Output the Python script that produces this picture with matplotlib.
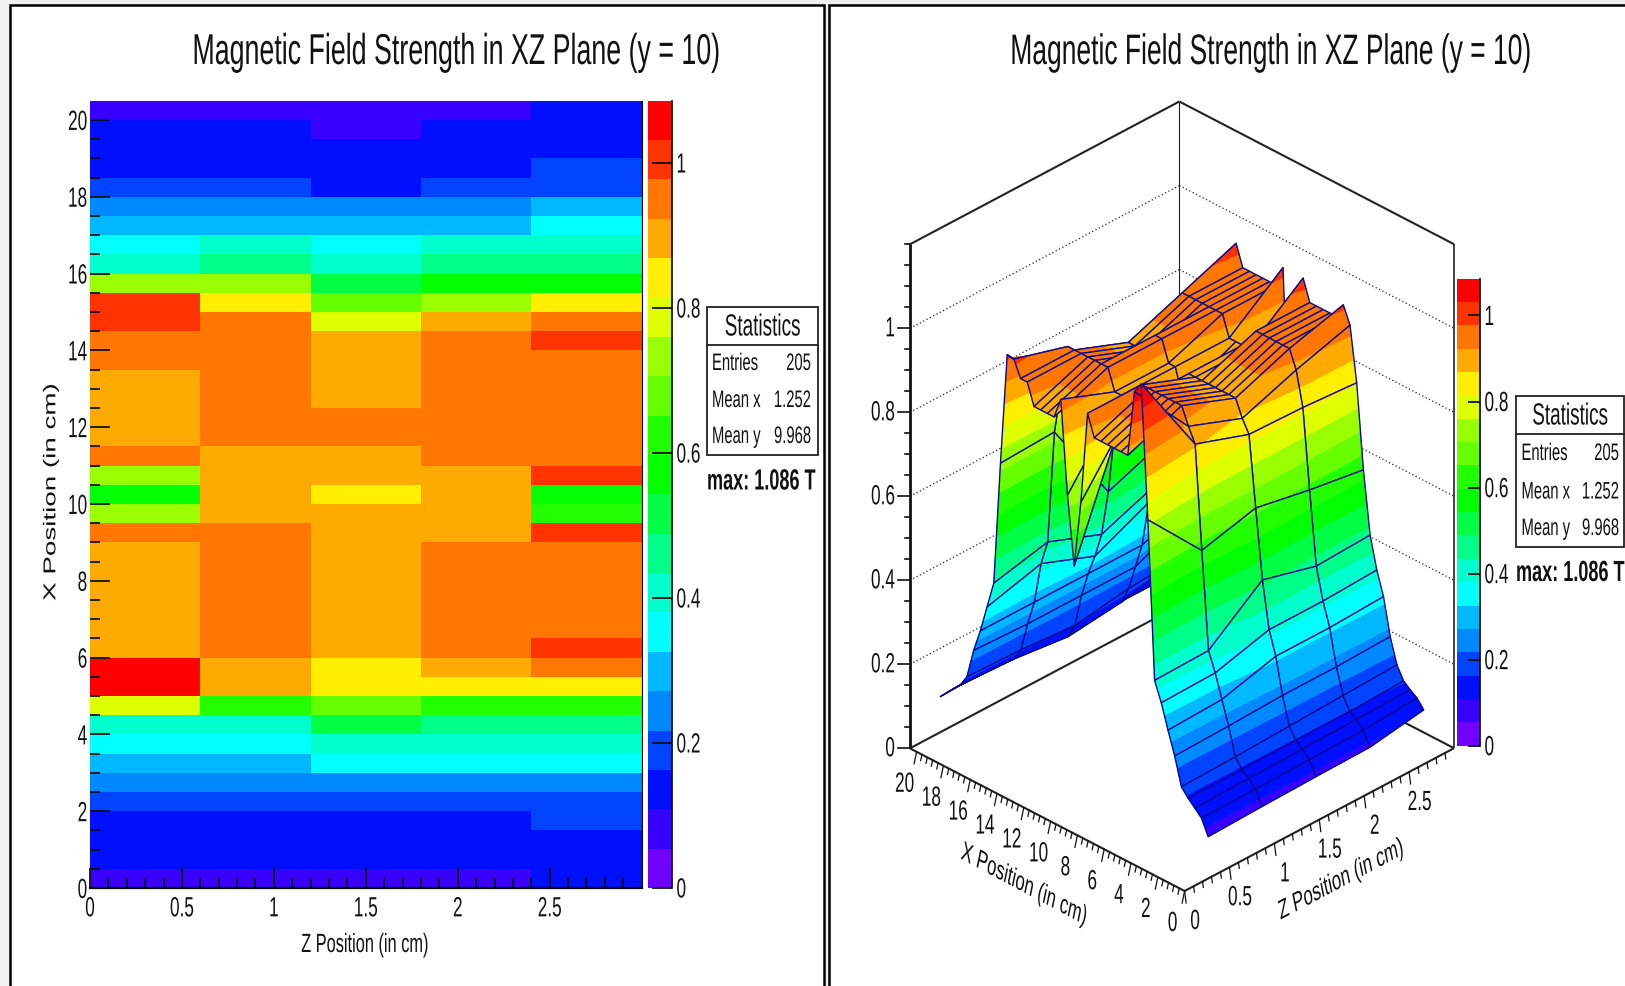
import numpy as np
import matplotlib
matplotlib.use("Agg")
from matplotlib import pyplot as plt
from matplotlib.cm import ScalarMappable
from matplotlib.collections import PolyCollection
from matplotlib.colors import BoundaryNorm, ListedColormap
from matplotlib.patches import Rectangle
from matplotlib.patheffects import AbstractPathEffect
from matplotlib.text import Text
from matplotlib.transforms import Affine2D, Bbox

TITLE = "Magnetic Field Strength in XZ Plane (y = 10)"
X_LABEL = "X Position (in cm)"
Z_LABEL = "Z Position (in cm)"
STATS = [("Entries", "205"), ("Mean x", "1.252"), ("Mean y", "9.968")]
MAX_TEXT = "max: 1.086 T"
BAR_TICKS = [0, .2, .4, .6, .8, 1]

# field in tesla, one list per z bin, going up in x
field_z0 = [.091, .127, .143, .158, .177, .242, .295, .352, .397, .771, 1.086, 1.06, .90, .90, .90, .90, .90, .90, .95, .73, .57,
            .73, .95, .90, .90, .90, .90, .95, .95, .988, .99, .724, .43, .365, .30, .245, .174, .146, .129, .111, .093]
field_z1 = [.095, .128, .145, .158, .18, .245, .30, .355, .40, .63, .875, .909, .95, .95, .95, .95, .95, .95, .95, .90, .90,
            .90, .90, .95, .95, .95, .95, .95, .95, .95, .84, .73, .46, .40, .30, .24, .17, .14, .125, .115, .10]
field_z2 = [.098, .13, .147, .16, .185, .25, .335, .39, .50, .663, .83, .86, .90, .90, .90, .90, .90, .90, .90, .90, .84,
            .90, .90, .95, .95, .90, .90, .90, .90, .79, .68, .52, .41, .35, .30, .24, .16, .125, .115, .105, .10]
field_z3 = [.10, .132, .15, .16, .19, .25, .335, .39, .465, .638, .826, .907, .95, .95, .95, .95, .95, .95, .90, .90, .90,
            .90, .95, .95, .95, .95, .95, .95, .95, .90, .73, .57, .46, .41, .30, .24, .18, .14, .125, .115, .10]
field_z4 = [.121, .141, .152, .165, .195, .254, .341, .396, .471, .618, .817, .946, .986, .95, .95, .95, .95, .95, 1.00, .62, .57,
            1.00, .95, .95, .95, .95, .95, .95, 1.00, .95, .84, .57, .46, .41, .35, .30, .19, .17, .125, .118, .115]

palette = ["#7000ff", "#3700ff", "#0010ff", "#0044ff", "#0088ff", "#00b8ff", "#00ffff", "#00ffcc", "#00ff88", "#00ff44",
           "#00ff00", "#22ff00", "#66ff00", "#99ff00", "#ddff00", "#ffee00", "#ffaa00", "#ff7700", "#ff3300", "#ff0000"]

FIELD_MAX = 1.086
BIN_X = 0.5
BIN_Z = 0.6

plt.rcParams["font.family"] = ["Liberation Sans"]

field = np.array([field_z0, field_z1, field_z2, field_z3, field_z4]).T
x_edges = BIN_X * np.arange(field.shape[0] + 1)
z_edges = BIN_Z * np.arange(field.shape[1] + 1)
x_nodes = x_edges[:-1] + BIN_X / 2
z_nodes = z_edges[:-1] + BIN_Z / 2
levels = np.linspace(0, FIELD_MAX, len(palette) + 1)
cmap = ListedColormap(palette)
norm = BoundaryNorm(levels, cmap.N)

W, H = 1625, 986
SQUEEZE = 0.62
INK = "#111111"
fig = plt.figure(figsize=(W / 100, H / 100), dpi=100, facecolor="#f0f0f0")


def add_axes_px(left, top, right, bottom):
    return fig.add_axes([left / W, 1 - bottom / H, (right - left) / W, (bottom - top) / H])


class Squeeze(AbstractPathEffect):
    # the reference was shrunk sideways only, so its glyphs are tall and thin
    def __init__(self, text):
        super().__init__()
        self.text = text

    def draw_path(self, renderer, gc, tpath, affine, rgbFace=None):
        cx = self.text.get_transform().transform(self.text.get_unitless_position())[0]
        squeeze = Affine2D().translate(-cx, 0).scale(SQUEEZE, 1).translate(cx, 0)
        renderer.draw_path(gc, tpath, affine + squeeze, rgbFace)


class NarrowText(Text):
    def __init__(self, *args, **kw):
        super().__init__(*args, **kw)
        self.set_path_effects([Squeeze(self)])

    def get_window_extent(self, renderer=None, dpi=None):
        box = super().get_window_extent(renderer, dpi)
        cx = self.get_transform().transform(self.get_unitless_position())[0]
        return Bbox.from_extents(cx + (box.x0 - cx) * SQUEEZE, box.y0, cx + (box.x1 - cx) * SQUEEZE, box.y1)


def label(x, y, s, size=20, ha="center", **kw):
    t = NarrowText(x, y, s, fontsize=size, ha=ha, va="center", color=INK, **kw)
    bg.add_artist(t)
    return t


# canvas in pixels for the frames, the texts and the surface
bg = fig.add_axes([0, 0, 1, 1])
bg.set_xlim(0, W)
bg.set_ylim(H, 0)
bg.axis("off")
bg.add_patch(Rectangle((9.5, 5), 814, 990, fc="white", ec="black", lw=1.8))
bg.add_patch(Rectangle((829, 5), 810, 990, fc="white", ec="black", lw=1.8))

label(455.5, 53, TITLE, size=31.1)
label(1270.5, 53, TITLE, size=30.7)


def stats_box(left, right, top, mid, bottom, rows_y, label_x, value_x, max_y):
    bg.add_patch(Rectangle((left, top), right - left, bottom - top, fc="white", ec="#222222", lw=1.3))
    bg.plot([left, right], [mid, mid], color="#222222", lw=1.3)
    label((left + right) / 2, (top + mid) / 2 + 1.5, "Statistics", size=22)
    for (name, val), y in zip(STATS, rows_y):
        label(label_x, y, name, size=17.2, ha="left")
        label(value_x, y, val, size=17.2, ha="right")
    label(left, max_y, MAX_TEXT, size=21, ha="left", weight="bold")


stats_box(707, 818, 307, 345, 455, [364, 401, 437], 712, 811, 481.5)
stats_box(1516, 1624, 396, 434, 546.5, [454, 492.5, 529], 1521.5, 1619, 573)

# left panel, flat map of the bins
ax = add_axes_px(90, 100.7, 641.6, 888)
ax.pcolormesh(z_edges, x_edges, field, cmap=cmap, norm=norm, antialiased=False, rasterized=True)
ax.set_xlim(0, 3)
ax.set_ylim(0, 20.5)
ax.set_xticks(np.arange(0, 3, 0.5))
ax.set_xticklabels(["0", "0.5", "1", "1.5", "2", "2.5"])
ax.set_xticks(np.arange(0, 3, 0.1), minor=True)
ax.set_yticks(np.arange(0, 21, 2))
ax.set_yticks(np.arange(0, 20.5, 0.5), minor=True)
ax.tick_params(which="major", direction="in", length=14.5, width=1.3, color=INK, labelsize=20, labelcolor=INK)
ax.tick_params(which="minor", direction="in", length=7.5, width=1.3, color=INK)
ax.tick_params(axis="x", pad=6)
ax.tick_params(axis="y", pad=2)
for tl in ax.get_xticklabels() + ax.get_yticklabels():
    tl.set_path_effects([Squeeze(tl)])
ax.spines["top"].set_visible(False)
ax.spines["left"].set_visible(False)
ax.spines["right"].set_linewidth(0.8)
ax.spines["bottom"].set_linewidth(1.6)
label(365, 945, Z_LABEL, size=19)
label(51, 492, X_LABEL, size=20, rotation=90)


def palette_bar(left, top, right, bottom, tick_len):
    cax = add_axes_px(left, top, right, bottom)
    cbar = fig.colorbar(ScalarMappable(norm=norm, cmap=cmap), cax=cax, ticks=BAR_TICKS)
    cbar.ax.minorticks_off()
    cbar.ax.tick_params(direction="in", length=tick_len, width=1.3, color=INK, labelright=False)
    cbar.outline.set_visible(False)
    cbar.dividers.set_visible(False)
    cax.axvline(1, color="black", lw=1.2, clip_on=False)
    for t in BAR_TICKS:
        y = bottom - (bottom - top) * t / FIELD_MAX
        label(right + 4.5, y + 2.5, "%g" % t, size=20, ha="left")


palette_bar(648, 100.7, 672, 888, 14.5)
palette_bar(1456.7, 278.5, 1480, 745.7, 8.5)

# right panel, parallel projection of the box on to the canvas
FRONT = np.array([1184.6, 891.0])
PER_X = np.array([-13.4, -6.96])
PER_Z = np.array([89.8, -47.6])
PER_T = 420.0
BOX_X, BOX_Z, BOX_T = 20.5, 3.0, 1.2


def project(x, z, t=0.0):
    p = FRONT + x * PER_X + z * PER_Z
    return p[0], p[1] - t * PER_T


def line3(p, q, **kw):
    a, b = project(*p), project(*q)
    bg.plot([a[0], b[0]], [a[1], b[1]], solid_capstyle="butt", **kw)


BOX = dict(color="#222222", lw=1.5, zorder=1)
line3((BOX_X, 0, 0), (0, 0, 0), **BOX)
line3((0, 0, 0), (0, BOX_Z, 0), **BOX)
line3((BOX_X, 0, 0), (BOX_X, BOX_Z, 0), **BOX)
line3((0, BOX_Z, 0), (BOX_X, BOX_Z, 0), **BOX)
line3((BOX_X, 0, 0), (BOX_X, 0, BOX_T), color=INK, lw=2.0, zorder=1)
line3((0, BOX_Z, 0), (0, BOX_Z, BOX_T), color="#222222", lw=1.2, zorder=1)
line3((BOX_X, BOX_Z, 0), (BOX_X, BOX_Z, BOX_T), color="#222222", lw=0.8, zorder=1)
line3((BOX_X, 0, BOX_T), (BOX_X, BOX_Z, BOX_T), **BOX)
line3((BOX_X, BOX_Z, BOX_T), (0, BOX_Z, BOX_T), **BOX)

for t in [.2, .4, .6, .8, 1.0]:
    line3((BOX_X, 0, t), (BOX_X, BOX_Z, t), color="#222222", lw=0.9, ls=(0, (1, 2)), zorder=1)
    line3((BOX_X, BOX_Z, t), (0, BOX_Z, t), color="#222222", lw=0.9, ls=(0, (1, 2)), zorder=1)

# value axis ticks on the left wall
for t in np.arange(0, 1.21, 0.05):
    major = round(t * 100) % 20 == 0 and t < 1.1
    px, py = project(BOX_X, 0, t)
    bg.plot([px - (12 if major else 5), px], [py, py], color=INK, lw=1.2, zorder=1)
    if major:
        label(px - 15, py + 1, "%g" % round(t, 1), ha="right")

# floor axis ticks
for x in np.arange(0, 20.01, 0.4):
    major = round(x * 10) % 20 == 0
    px, py = project(x, 0)
    bg.plot([px, px - (2.5 if major else 1.3)], [py, py + (12 if major else 6)], color=INK, lw=0.9, zorder=1)
    if major:
        label(px - 12, py + 33, "%d" % x)
for z in np.arange(0, 2.91, 0.1):
    major = round(z * 10) % 5 == 0
    px, py = project(0, z)
    bg.plot([px, px + (1.5 if major else 0.8)], [py, py + (12 if major else 6)], color=INK, lw=0.9, zorder=1)
    if major:
        label(px + 10.5, py + 31, "%g" % round(z, 1))
# rotated before the squeeze, so the angle comes out steeper than the one given here
label(1024, 885, X_LABEL, size=19.5, rotation=-18.3, rotation_mode="anchor")
label(1341, 880, Z_LABEL, size=19.5, rotation=18.3, rotation_mode="anchor")


def clip_above(poly, limit, sign):
    # one pass of polygon clipping on the value column, sign=1 keeps above the limit
    out = []
    for k in range(len(poly)):
        a, b = poly[k], poly[(k + 1) % len(poly)]
        da, db = sign * (a[2] - limit), sign * (b[2] - limit)
        if da >= 0:
            out.append(a)
        if da * db < 0:
            s = da / (da - db)
            out.append(a + s * (b - a))
    return out


polys, faces, edges, widths = [], [], [], []
for i in range(len(x_nodes) - 2, -1, -1):
    for j in range(len(z_nodes) - 2, -1, -1):
        quad = [np.array([x_nodes[i + a], z_nodes[j + b], field[i + a, j + b]])
                for a, b in [(0, 0), (1, 0), (1, 1), (0, 1)]]
        for k, colour in enumerate(palette):
            piece = clip_above(clip_above(quad, levels[k], 1), levels[k + 1], -1)
            if len(piece) >= 3:
                polys.append([project(*p) for p in piece])
                faces.append(colour)
                edges.append(colour)
                widths.append(0.5)
        polys.append([project(*p) for p in quad])
        faces.append("none")
        edges.append("#0a0a8c")
        widths.append(1.0)

surface = PolyCollection(polys, facecolors=faces, edgecolors=edges, linewidths=widths, zorder=2)
bg.add_collection(surface)

plt.savefig("out.png", dpi=100, facecolor=fig.get_facecolor())
